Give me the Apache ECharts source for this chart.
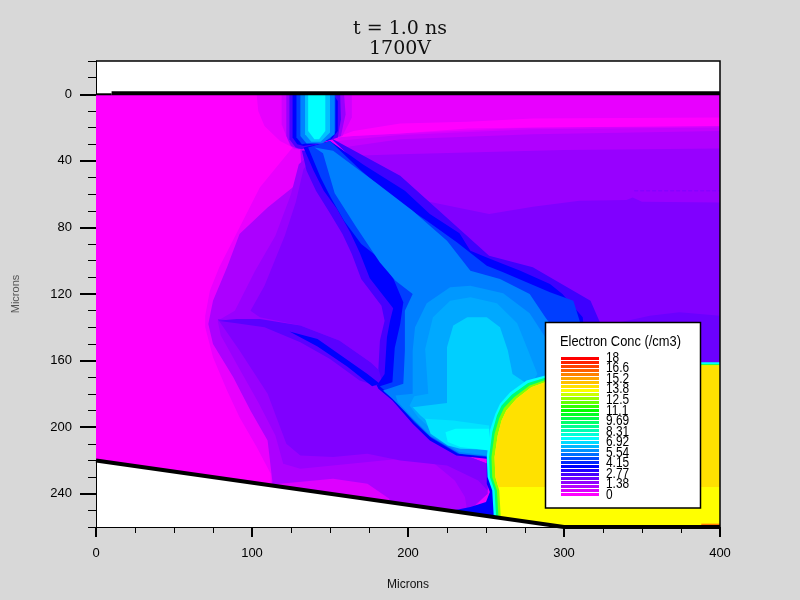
<!DOCTYPE html>
<html><head><meta charset="utf-8">
<style>html,body{margin:0;padding:0;background:#d8d8d8}#c{width:800px;height:600px}</style>
<script src="https://cdn.jsdelivr.net/npm/echarts@6/dist/echarts.min.js"></script>
</head><body><div id="c"></div>
<script>
const titleLines = ['t = 1.0 ns', '1700V'];
const legendTitle = 'Electron Conc (/cm3)';
const legendLabels = ['18','16.6','15.2','13.8','12.5','11.1','9.69','8.31','6.92','5.54','4.15','2.77','1.38','0'];
const legendRowCount = 35;
const yMajorTicks = [0,40,80,120,160,200,240];
const yMinorTicks = [-20,-10,10,20,30,50,60,70,90,100,110,130,140,150,170,180,190,210,220,230,250,260];
const colourStops = [[0,[255,0,255]],[3.7,[0,0,255]],[7.4,[0,255,255]],[11.1,[0,255,0]],[13.8,[255,255,0]],[18,[255,0,0]]];

// Contour regions: [x microns, depth microns]
const domain = [[0,0],[400,0],[400,260],[300,260],[0,220]];
const outerLeft = [[103,0],[104,10],[108,19],[118,28],[126,32],[105,56],[92,80],[79,104],[73,118],[70,133],[70,140],[75,158],[84,178],[92,194],[103,212],[112,228],[112,235],[300,260],[400,260],[400,0]];
const rightBase = [[154,26],[165,25],[195,23.5],[280,20],[400,19],[400,165],[290,165],[260,110],[200,60]];
const rightStrip = [[154,26],[165,22],[195,17.5],[238,16.5],[280,14.5],[400,14],[400,19],[280,20],[238,20.5],[195,23.5],[165,25]];
const rightBandA = [[154,28],[195,24.5],[280,21],[400,20],[400,165],[290,165],[260,110],[200,60]];
const rightBandB = [[158,32],[195,27],[280,24],[400,22],[400,165],[290,165],[260,110],[200,60]];
const rightBandC = [[165,37],[195,36],[300,33.5],[400,32.5],[400,165],[290,165],[260,110],[200,60]];
const rightBandD = [[190,60],[252,72],[280,67.5],[310,64],[340,63.5],[344,62],[350,64.5],[400,65],[400,165],[290,165],[260,110]];
const rightBandE = [[336,137],[355,133],[374,131],[400,133],[400,165],[336,165]];
const rightHalo = [[150,26],[195,49],[252,97],[280,104],[317,124],[323,137],[330,160],[300,160],[260,120],[200,70]];
const innerP2 = [[126,56],[110,68],[92,84],[84,104],[75,124],[72,138],[75,150],[88,170],[99,190],[110,208],[113,232],[113,235],[238,251.7],[251,240],[251,222],[231,215],[214,206],[203,196],[190,182],[180,175],[190,165],[192,146],[195,128],[182,110],[170,85],[155,62],[140,34],[131,33],[132,50]];
const innerP3 = [[130,42],[125,60],[115,85],[102,106],[89,130],[78,136],[80,145],[92,165],[104,185],[115,205],[120,222],[131,225],[163,222],[195,219],[217,222],[230,232],[236.5,242],[238,250.5],[251,240],[251,222],[231,215],[214,206],[203,196],[190,182],[180,175],[190,165],[192,146],[195,128],[182,110],[170,85],[155,62],[140,34]];
const lowerStrip = [[115,235],[118,234],[152,231],[174,234],[188,243],[188,245]];
const wedgeUpper = [[133,45],[128,65],[121,85],[108,115],[99,130],[105,134],[131,139],[156,148],[176,161],[185,172],[190,165],[192,146],[195,128],[182,110],[170,85],[155,62],[140,36]];
const wedgeLower = [[78,135],[92,154],[110,180],[122,210],[131,217],[152,218],[174,216],[195,220],[225,223],[245,232],[251,238],[251,222],[231,215],[214,206],[203,196],[190,182],[180,175],[170,167],[150,155],[124,140]];
const streakHalo = [[78,136],[90,135],[105,135],[131,139],[156,148],[176,161],[185,169],[185,177],[169,172],[150,159],[131,149],[108,140],[90,137.5]];
const streakCore = [[124,142.5],[142,147],[158,157.5],[174,168],[182,174],[177,175.5],[161,163.5],[142,151.5]];
const leftHalo = [[132,34],[135,46],[141,58],[149,70],[158,84],[164,96],[170,111],[183,127],[185,136],[182,148],[181,165],[183,171],[189,172],[192,146],[195,128],[182,110],[170,85],[155,62],[140,34]];
const channelHaloA = [[119,0],[119,18],[124,30],[127,33],[132,33],[158,25],[164,14],[164,0]];
const channelHaloB = [[122,0],[122,25],[125,31],[130,33],[157,25],[160,12],[159,0]];
const channelHaloC = [[124,0],[124,27],[128,32],[132,33],[155,26],[157,15],[156.5,0]];
const diagBlue = [[133,32],[139.5,46],[146,58],[154.5,69],[163,83],[169,95],[175.5,110.5],[190.5,128.5],[188.5,136],[186.5,146],[185,168],[180,175],[181,177],[190,184],[203,198],[214,208],[231,217],[250.5,219],[250.5,234],[252.5,239],[250,245],[240,248],[228,250.3],[255,254],[280,200],[316,170],[312,134],[299,120],[291,114],[272,106],[261,102],[250.5,98],[240,94],[233,83.5],[214,72],[198,58],[171,42],[150,28]];
const diagInner = [[136,32],[144,50],[150.5,62],[159,76],[170,90],[181,98],[190.5,110.5],[197,125],[195,138],[191.5,152.5],[190,173],[182,175.5],[191,183],[204,197],[215,206.5],[232,216],[250.5,218],[280,200],[316,170],[310,136],[306,124],[291,119],[261,107],[250.5,103],[231.5,89],[212,76],[190,62],[169,45],[150,28]];
const diagMain = [[140,32],[145.5,35.5],[153,59.5],[167,80],[182,101],[192,112],[203,120],[198,130],[198,154],[197,174],[184,178],[190,183],[201,193.5],[214,205.5],[233,216],[250.5,217.5],[280,200],[316,170],[288,134],[278,120],[259,111],[240,106],[225,88],[203,70],[180,53.5],[152,34]];
const lobeA = [[203,180],[203,154],[204.5,140],[212,125.5],[227,116],[240,115],[261,119.5],[278,131.5],[288,146],[297.5,172],[250.5,217],[233,215],[215,205.5],[204.5,196],[193.5,185],[192,181]];
const lobeB = [[213,180],[211,153],[216,134],[227,124],[240,122],[257,125.5],[270,137.5],[277,154],[283,168],[252.5,214],[236.5,213],[217,203],[206.5,194],[201,187],[204,181.5]];
const lobeC = [[225,152],[229,139],[238,134],[250.5,134],[259,140],[264,154],[267,168],[278,175],[252.5,210],[238,213],[220.5,203],[208,193],[203,188],[225,185.5]];
const lobeD = [[211,195],[214.5,204],[225.5,211],[233.5,213],[252,213.5],[252,199],[229,196]];
const lobeE = [[224,203],[230.5,201],[252,201],[252,214],[233.5,212],[225.5,209]];
const channelA = [[126,0],[126,26],[129,30],[133,31],[140,30],[151,27],[155,22],[155,4],[152,0]];
const channelB = [[128.5,0],[128.5,26],[132,30],[150,27],[153.5,22],[153.5,0]];
const channelC = [[131,0],[131,25],[135,29.5],[145,29.5],[153,24],[153,0]];
const channelD = [[134,0],[134,24],[138,28.5],[144,28.5],[150,23],[150,0]];
const channelE = [[136,0],[136,22],[140,27],[143,27],[147,22],[147,0]];
const massA = [[288,169],[276,172],[265.5,179],[259,186],[256,192],[252.5,202],[250.5,218],[251,230],[254,238],[255,254],[300,260],[400,260],[400,161],[300,161]];
const massB = [[289,170],[277,173.5],[266.5,180.5],[260,187],[257,193],[254,203],[252,218],[252.5,230],[255.5,238],[256.5,254.2],[300,260],[400,260],[400,162],[300,162]];
const massC = [[290,171],[278,175],[268,182],[261.5,188.5],[258.5,194.5],[255.5,204],[253.5,218],[254,230],[257,238],[258,254.4],[300,260],[400,260],[400,162.5],[300,162.5]];
const massD = [[291,172],[279,176],[269.5,183],[263,190],[260,196],[257.5,205],[255.5,218],[256,230],[258.5,238],[259.5,254.6],[300,260],[400,260],[400,163],[300,163]];
const massE = [[291,172],[279,176],[269.5,183],[263,190],[260,196],[257.5,205],[255.5,218],[256,230],[258,236],[400,236],[400,163],[300,163]];
const cornerPatch = [[388,258],[400,258],[400,260],[388,260]];

const regionShapes = [domain,outerLeft,rightBase,rightStrip,rightBandA,rightBandB,rightBandC,rightBandD,rightBandE,rightHalo,innerP2,innerP3,lowerStrip,wedgeUpper,wedgeLower,streakHalo,streakCore,leftHalo,channelHaloA,channelHaloB,channelHaloC,diagBlue,diagInner,diagMain,lobeA,lobeB,lobeC,lobeD,lobeE,channelA,channelB,channelC,channelD,channelE,massA,massB,massC,massD,massE,cornerPatch];
const regionLevels = [0,0.33,0.6,0,0.85,1.15,1.5,1.85,2.15,2.8,1.2,1.5,0.5,1.85,1.85,2.4,3.7,2.7,0.7,1.5,2.6,3.7,4.6,5.55,5.9,6.15,6.7,7.0,7.4,3.7,4.6,5.6,6.5,7.4,7.4,9.5,12.5,13.8,14.3,16];

const topEdgeThin = [[0,0],[10,0]];
const topEdgeThick = [[10,-0.6],[400,-0.6]];
const bottomEdge = [[0,220],[300,260],[400,260]];
const frameEdge = [[0,-20],[400,-20],[400,260]];
const dashedMark = [[345,58],[400,58]];

function levelColour(v){
  for(let i=1;i<colourStops.length;i++){
    const a=colourStops[i-1],b=colourStops[i];
    if(v<=b[0]){
      const t=(v-a[0])/(b[0]-a[0]);
      const c=a[1].map((k,j)=>Math.round(k+(b[1][j]-k)*t));
      return 'rgb('+c.join(',')+')';
    }
  }
  return 'rgb(255,0,0)';
}
const tickFont='"Liberation Sans",sans-serif';
function edge(data,width,color,dash){
  return {type:'line',data:data,symbol:'none',silent:true,animation:false,clip:false,z:5,
    lineStyle:{width:width,color:color||'#000',type:dash||'solid',cap:'butt',join:'miter'}};
}
const legendGraphics=[
  {type:'rect',shape:{x:545.5,y:322.5,width:155,height:185.5},style:{fill:'#fff',stroke:'#000',lineWidth:1.5},z:100},
  {type:'text',x:560,y:335,scaleX:0.92,style:{text:legendTitle,font:'14px '+tickFont,fill:'#000'},z:101}
];
for(let i=0;i<legendRowCount;i++){
  const y=Math.round(493-i*(136/(legendRowCount-1)));
  legendGraphics.push({type:'rect',shape:{x:561,y:y,width:38,height:3},style:{fill:levelColour(i*18/(legendRowCount-1))},z:101});
}
legendLabels.forEach((t,i)=>{
  legendGraphics.push({type:'text',x:606,y:351+i*10.54,scaleX:0.85,style:{text:t,font:'14px '+tickFont,fill:'#000'},z:101});
});
const chart=echarts.init(document.getElementById('c'),null,{renderer:'canvas'});
chart.setOption({
  animation:false,
  backgroundColor:'#d8d8d8',
  title:{text:titleLines.join('\n'),left:400,top:19,padding:0,textAlign:'center',
    textStyle:{fontFamily:'"DejaVu Serif",serif',fontSize:19,fontWeight:'normal',color:'#111',lineHeight:20}},
  grid:{left:96,right:80,top:61,bottom:73,show:true,backgroundColor:'#fff',borderColor:'#000',borderWidth:0,outerBoundsMode:'none'},
  xAxis:{type:'value',min:0,max:400,interval:100,name:'Microns',nameLocation:'middle',nameGap:52,
    nameTextStyle:{fontFamily:tickFont,fontSize:12,color:'#111'},
    axisLine:{show:true,onZero:false,lineStyle:{color:'#000',width:1}},
    axisTick:{show:true,length:10,lineStyle:{color:'#000',width:2}},
    minorTick:{show:true,splitNumber:4,length:6,lineStyle:{color:'#000',width:1}},
    axisLabel:{fontFamily:tickFont,fontSize:13,color:'#000',margin:20,hideOverlap:false,showMinLabel:true,showMaxLabel:true},
    splitLine:{show:false}},
  yAxis:[
    {type:'value',min:-20,max:260,inverse:true,position:'left',name:'Microns',nameLocation:'middle',nameGap:75,nameRotate:90,
     nameTextStyle:{fontFamily:tickFont,fontSize:11,color:'#555'},
     axisLine:{show:true,onZero:false,lineStyle:{color:'#000',width:1}},
     axisTick:{show:true,length:16,lineStyle:{color:'#000',width:2},customValues:yMajorTicks},
     axisLabel:{fontFamily:tickFont,fontSize:13,color:'#000',margin:24,customValues:yMajorTicks},
     splitLine:{show:false}},
    {type:'value',min:-20,max:260,inverse:true,position:'left',
     axisLine:{show:false,onZero:false},
     axisTick:{show:true,length:8,lineStyle:{color:'#000',width:1},customValues:yMinorTicks},
     axisLabel:{show:false},splitLine:{show:false}}
  ],
  series:[
    {type:'custom',coordinateSystem:'cartesian2d',silent:true,animation:false,clip:true,z:2,
     data:regionShapes.map((s,i)=>[i,regionLevels[i]]),encode:{x:[],y:[]},
     renderItem:function(params,api){
       const i=params.dataIndex;
       return {type:'polygon',shape:{points:regionShapes[i].map(p=>api.coord(p))},
         style:{fill:levelColour(regionLevels[i])}};
     }},
    edge(dashedMark,1,levelColour(1.85),'dashed'),
    edge(topEdgeThin,2),
    edge(topEdgeThick,4),
    edge(bottomEdge,4),
    edge(frameEdge,1.5)
  ],
  graphic:legendGraphics
});
</script></body></html>
